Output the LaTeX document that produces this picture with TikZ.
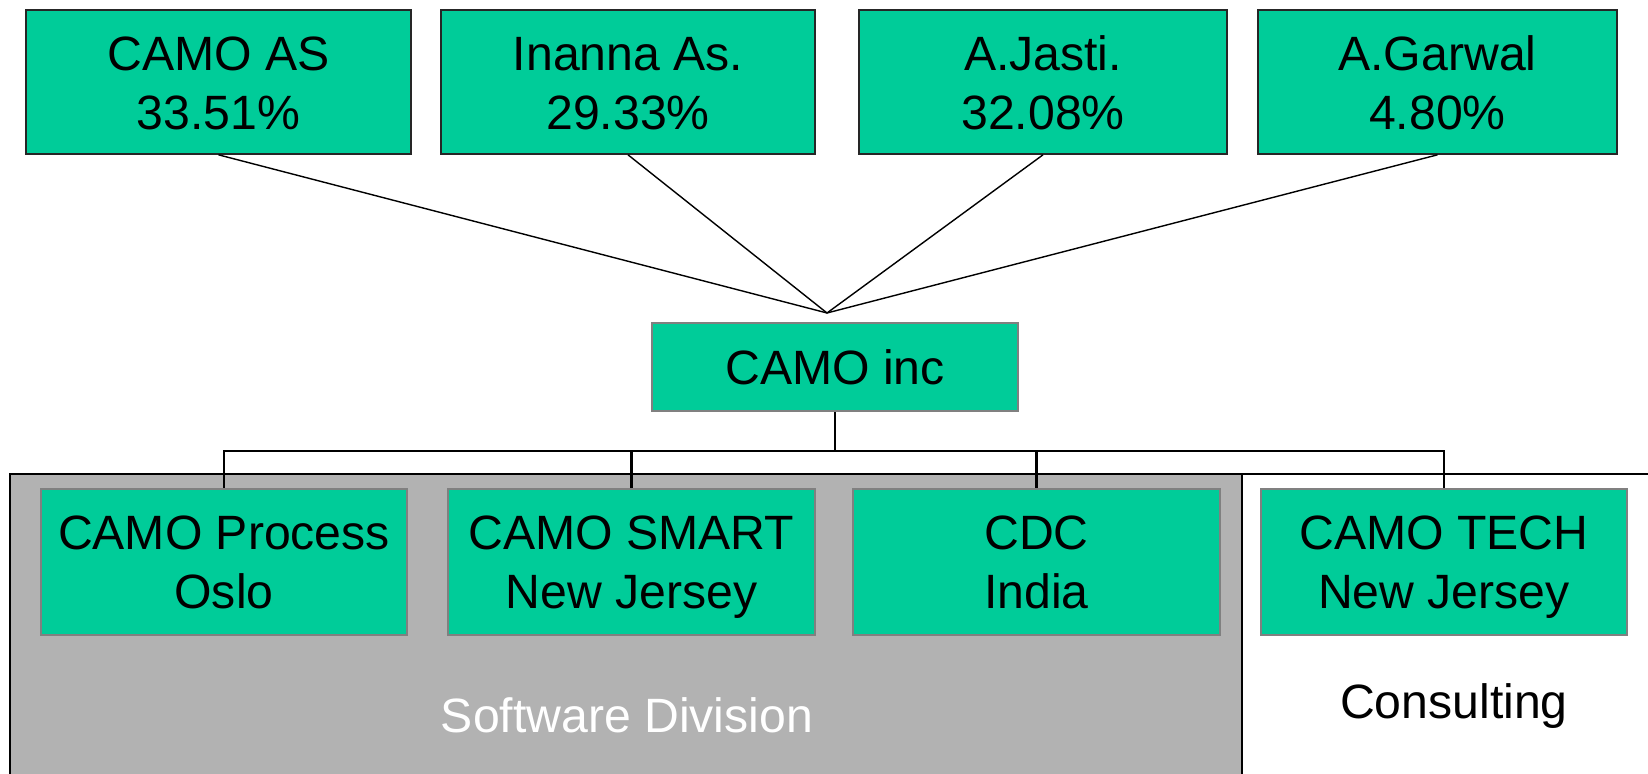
\documentclass[tikz,border=0pt]{standalone}
\usepackage{fontspec}
\setmainfont{Liberation Sans}
\definecolor{camogreen}{HTML}{00CC99}
\definecolor{divgray}{HTML}{B2B2B2}
% two lines of text with fixed top and bottom
\newcommand{\ownlines}[2]{\rule{0pt}{0.46cm}#1\\#2\rule[-0.1cm]{0pt}{0.1cm}}
\newcommand{\unitlines}[2]{\rule{0pt}{0.44cm}#1\\#2\rule[-0.1cm]{0pt}{0.1cm}}
\begin{document}
\begin{tikzpicture}[x=0.01cm,y=-0.01cm,font=\fontsize{13.7}{16.5}\selectfont,
  owner/.style={draw=black!85,line width=0.45pt,fill=camogreen,align=center,inner sep=0pt,minimum height=1.44cm},
  unit/.style={draw=black!50,line width=0.6pt,fill=camogreen,align=center,inner sep=0pt,minimum height=1.46cm},
  fan/.style={line width=0.4pt},
  bus/.style={line width=0.7pt}]
\useasboundingbox (0,0) rectangle (1648,774);

% divisions
\fill[divgray](10,474) rectangle (1242,774);
\draw[line width=0.35pt](10,774)--(10,474)--(1660,474);
\draw[line width=0.35pt](1242,474)--(1242,774);
\node[white] (soft) at(627,715) {Software Division};
\node[black] (cons) at(1454,706) {Consulting};

% owners
\node[owner,minimum width=3.85cm] (own1) at(218.5,82) {\ownlines{CAMO AS}{33.51\%}};
\node[owner,minimum width=3.74cm] (own2) at(628,82) {\ownlines{Inanna As.}{29.33\%}};
\node[owner,minimum width=3.68cm] (own3) at(1043,82) {\ownlines{A.Jasti.}{32.08\%}};
\node[owner,minimum width=3.59cm] (own4) at(1437.5,82) {\ownlines{A.Garwal}{4.80\%}};

\node[unit,minimum width=3.66cm,minimum height=0.88cm] (inc) at(835,367) {CAMO inc};
\coordinate (hub) at(827,313);
\coordinate (busline) at(0,451);

% subsidiaries
\node[unit,minimum width=3.66cm] (sub1) at(224,562) {\unitlines{CAMO Process}{Oslo}};
\node[unit,minimum width=3.67cm] (sub2) at(631.5,562) {\unitlines{CAMO SMART}{New Jersey}};
\node[unit,minimum width=3.67cm] (sub3) at(1036.5,562) {\unitlines{CDC}{India}};
\node[unit,minimum width=3.66cm] (sub4) at(1444,562) {\unitlines{CAMO TECH}{New Jersey}};

\draw[fan](own1.south)--(hub);
\draw[fan](own2.south)--(hub);
\draw[fan](own3.south)--(hub);
\draw[fan](own4.south)--(hub);

\draw[bus](inc.south)--(inc.south |- busline);
\draw[bus](sub1.north)--(sub1.north |- busline)-|(sub4.north);
\draw[bus](sub2.north)--(sub2.north |- busline);
\draw[bus](sub3.north)--(sub3.north |- busline);
\end{tikzpicture}
\end{document}
